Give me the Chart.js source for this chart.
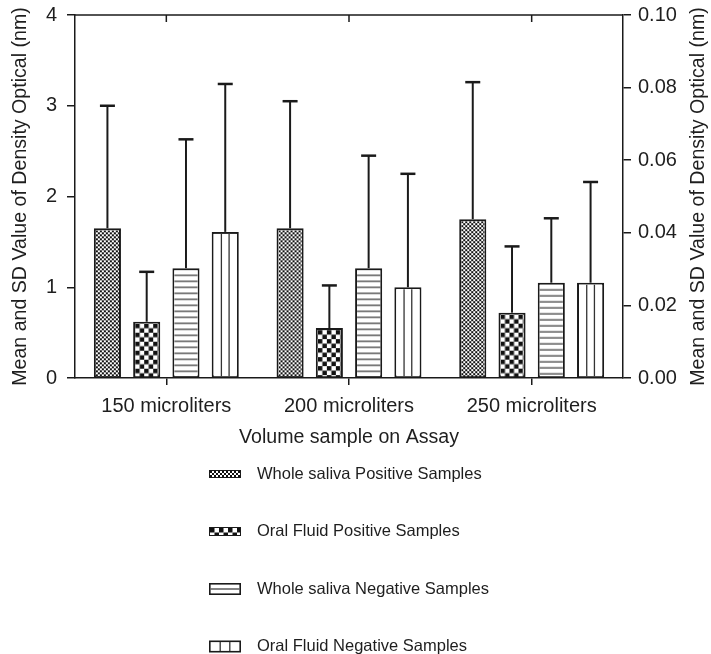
<!DOCTYPE html>
<html>
<head>
<meta charset="utf-8">
<script src="https://cdn.jsdelivr.net/npm/chart.js@4.4.0/dist/chart.umd.min.js"></script>
<style>
  body { margin: 0; background: #fff; }
  canvas { display: block; }
</style>
</head>
<body>
<canvas id="odChart" width="711" height="654"></canvas>
<script>
// DATA
const volumes = ["150 microliters", "200 microliters", "250 microliters"];

const seriesNames = [
  "Whole saliva Positive Samples",
  "Oral Fluid Positive Samples",
  "Whole saliva Negative Samples",
  "Oral Fluid Negative Samples"
];

const wholeSalivaPos = [1.65, 1.65, 1.75];
const oralFluidPos = [0.62, 0.55, 0.72];
const wholeSalivaNeg = [1.21, 1.21, 1.05];
const oralFluidNeg = [1.61, 1.00, 1.05];

// standard deviations (drawn upward only)
const wholeSalivaPosSD = [1.35, 1.40, 1.51];
const oralFluidPosSD = [0.55, 0.47, 0.73];
const wholeSalivaNegSD = [1.42, 1.24, 0.71];
const oralFluidNegSD = [1.63, 1.25, 1.11];

const leftTicks = [0, 1, 2, 3, 4];
const rightTicks = [0, 0.02, 0.04, 0.06, 0.08, 0.10];

const yTitle = "Mean and SD Value of Density Optical (nm)";

const INK = "#1a1a1a";
const TEXT = "#1e1e1e";
const FONT = "'Liberation Sans', Arial, Helvetica, sans-serif";

// fill patterns, anchored at (ox, oy) so they line up with each bar
function makePattern(ctx, kind, ox, oy) {
  const c = document.createElement("canvas");
  const g = c.getContext("2d");
  if (kind === "fine") {
    c.width = 4; c.height = 4;
    g.fillStyle = "#fff"; g.fillRect(0, 0, 4, 4);
    g.fillStyle = "#111";
    g.fillRect(0, 0, 2, 2); g.fillRect(2, 2, 2, 2);
  } else if (kind === "coarse") {
    c.width = 9; c.height = 9;
    g.fillStyle = "#fff"; g.fillRect(0, 0, 9, 9);
    g.fillStyle = "#111";
    g.fillRect(0, 0, 4.5, 4.5); g.fillRect(4.5, 4.5, 4.5, 4.5);
  } else {
    c.width = 4; c.height = 6;
    g.fillStyle = "#fff"; g.fillRect(0, 0, 4, 6);
    g.fillStyle = "#333";
    g.fillRect(0, 4.5, 4, 1.2);
  }
  const p = ctx.createPattern(c, "repeat");
  p.setTransform(new DOMMatrix([1, 0, 0, 1, ox, oy]));
  return p;
}

function fillInside(ctx, kind, x1, y1, x2, y2) {
  ctx.save();
  if (kind === "vlines") {
    ctx.fillStyle = "#fff";
    ctx.fillRect(x1, y1, x2 - x1, y2 - y1);
    ctx.strokeStyle = "#333";
    ctx.lineWidth = 1.3;
    const w = x2 - x1;
    [1, 2].forEach(function (k) {
      const xx = x1 + w * k / 3;
      ctx.beginPath(); ctx.moveTo(xx, y1); ctx.lineTo(xx, y2); ctx.stroke();
    });
  } else {
    ctx.fillStyle = makePattern(ctx, kind, x1, y1);
    ctx.fillRect(x1, y1, x2 - x1, y2 - y1);
  }
  ctx.restore();
}

const fills = ["fine", "coarse", "hlines", "vlines"];
const means = [wholeSalivaPos, oralFluidPos, wholeSalivaNeg, oralFluidNeg];
const sds = [wholeSalivaPosSD, oralFluidPosSD, wholeSalivaNegSD, oralFluidNegSD];

const BW = 2;

const patternPlugin = {
  id: "patternFill",
  afterDatasetDraw(chart, args) {
    const ctx = chart.ctx;
    const kind = fills[args.index];
    args.meta.data.forEach(function (el) {
      const x1 = el.x - el.width / 2 + BW;
      const x2 = el.x + el.width / 2 - BW;
      fillInside(ctx, kind, x1, el.y + BW, x2, el.base - 1);
    });
  },
  afterDatasetsDraw(chart) {
    const ctx = chart.ctx;
    const y = chart.scales.y;
    ctx.save();
    ctx.strokeStyle = INK;
    means.forEach(function (arr, di) {
      const meta = chart.getDatasetMeta(di);
      meta.data.forEach(function (el, i) {
        const top = y.getPixelForValue(arr[i] + sds[di][i]);
        ctx.lineWidth = 2;
        ctx.beginPath(); ctx.moveTo(el.x, el.y); ctx.lineTo(el.x, top); ctx.stroke();
        ctx.lineWidth = 2.5;
        ctx.beginPath(); ctx.moveTo(el.x - 7.5, top); ctx.lineTo(el.x + 7.5, top); ctx.stroke();
      });
    });
    ctx.restore();
  },
  afterDraw(chart) {
    const ctx = chart.ctx;
    const a = chart.chartArea;
    const x = chart.scales.x;
    ctx.save();
    // top frame with inward category ticks
    ctx.strokeStyle = INK;
    ctx.lineWidth = 1.5;
    ctx.beginPath(); ctx.moveTo(a.left, a.top); ctx.lineTo(a.right, a.top); ctx.stroke();
    volumes.forEach(function (v, i) {
      const px = x.getPixelForValue(i);
      ctx.beginPath(); ctx.moveTo(px, a.top); ctx.lineTo(px, a.top + 7); ctx.stroke();
    });

    // right-hand axis title, reading bottom to top like the left one
    ctx.save();
    ctx.font = "19.6px " + FONT;
    ctx.fillStyle = TEXT;
    ctx.textAlign = "center";
    ctx.textBaseline = "middle";
    ctx.translate(chart.scales.y2.right - 12, (a.top + a.bottom) / 2);
    ctx.rotate(-Math.PI / 2);
    ctx.fillText(yTitle, 0, 0);
    ctx.restore();

    // legend, stacked vertically under the axis title
    const lx = 209, ly = 474, gap = 57.5, sw = 32;
    const sh = [8, 9, 12, 12];
    ctx.font = "16.5px " + FONT;
    ctx.textBaseline = "middle";
    ctx.textAlign = "left";
    seriesNames.forEach(function (name, i) {
      const cy = ly + gap * i;
      const h = sh[i];
      const top = cy - h / 2;
      ctx.fillStyle = INK;
      ctx.fillRect(lx, top, sw, h);
      const b = i < 2 ? 1 : 1.6;
      if (fills[i] === "hlines") {
        ctx.fillStyle = "#fff";
        ctx.fillRect(lx + b, top + b, sw - 2 * b, h - 2 * b);
        ctx.fillStyle = "#333";
        ctx.fillRect(lx + b, cy - 0.6, sw - 2 * b, 1.2);
      } else {
        fillInside(ctx, fills[i], lx + b, top + b, lx + sw - b, top + h - b);
      }
      ctx.fillStyle = TEXT;
      ctx.fillText(name, lx + 48, cy);
    });
    ctx.restore();
  }
};

const ctx = document.getElementById("odChart").getContext("2d");

const odChart = new Chart(ctx, {
  type: "bar",
  data: {
    labels: volumes,
    datasets: means.map(function (arr, i) {
      return {
        label: seriesNames[i],
        data: arr,
        backgroundColor: "#fff",
        borderColor: INK,
        borderWidth: BW,
        borderSkipped: false,
        yAxisID: "y"
      };
    })
  },
  options: {
    responsive: false,
    animation: false,
    events: [],
    layout: { padding: { top: 15, bottom: 200, left: 0, right: 0 } },
    categoryPercentage: 0.86,
    barPercentage: 0.69,
    plugins: {
      legend: { display: false },
      tooltip: { enabled: false }
    },
    scales: {
      x: {
        grid: {
          offset: false,
          drawOnChartArea: false,
          drawTicks: true,
          tickLength: 7,
          color: INK,
          lineWidth: 1.5
        },
        border: { display: true, color: INK, width: 1.5 },
        ticks: {
          color: TEXT,
          padding: 9,
          maxRotation: 0,
          font: { family: FONT, size: 20 }
        },
        title: {
          display: true,
          text: "Volume sample on Assay",
          color: TEXT,
          font: { family: FONT, size: 19.6 },
          padding: { top: 0, bottom: 5 }
        },
        afterFit: function (s) { s.height = 76; s.paddingLeft = 0; s.paddingRight = 0; }
      },
      y: {
        position: "left",
        min: 0,
        max: 4,
        afterBuildTicks: function (s) { s.ticks = leftTicks.map(function (v) { return { value: v }; }); },
        grid: {
          drawOnChartArea: false,
          drawTicks: true,
          tickLength: 8,
          color: INK,
          lineWidth: 1.5
        },
        border: { display: true, color: INK, width: 1.5 },
        ticks: {
          color: TEXT,
          padding: 10,
          font: { family: FONT, size: 20 }
        },
        title: {
          display: true,
          text: yTitle,
          color: TEXT,
          font: { family: FONT, size: 19.6 },
          padding: { top: 9, bottom: 0 }
        },
        afterFit: function (s) { s.width = 75; s.paddingTop = 0; s.paddingBottom = 0; }
      },
      y2: {
        position: "right",
        min: 0,
        max: 0.1,
        afterBuildTicks: function (s) { s.ticks = rightTicks.map(function (v) { return { value: v }; }); },
        grid: {
          drawOnChartArea: false,
          drawTicks: true,
          tickLength: 8,
          color: INK,
          lineWidth: 1.5
        },
        border: { display: true, color: INK, width: 1.5 },
        ticks: {
          color: TEXT,
          padding: 7,
          font: { family: FONT, size: 20 },
          callback: function (v) { return Number(v).toFixed(2); }
        },
        afterFit: function (s) { s.width = 88; s.paddingTop = 0; s.paddingBottom = 0; }
      }
    }
  },
  plugins: [patternPlugin]
});
</script>
</body>
</html>
